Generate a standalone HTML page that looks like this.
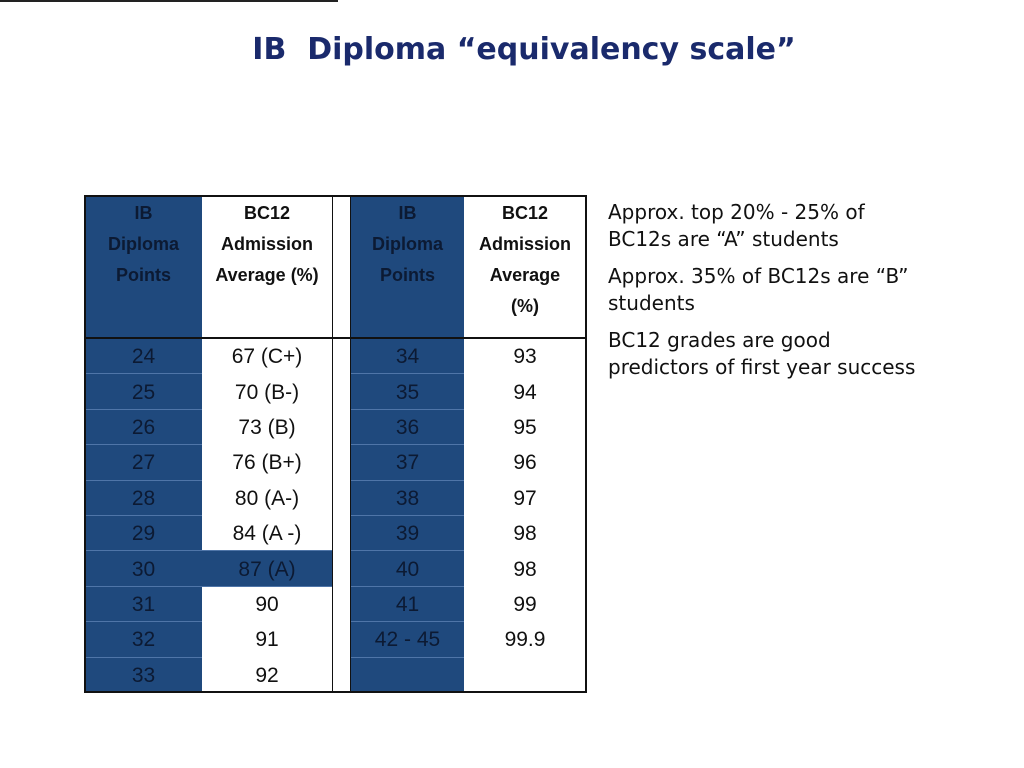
<!DOCTYPE html>
<html><head><meta charset="utf-8"><style>
body{margin:0;width:1024px;height:768px;background:#fff;position:relative;font-family:"Liberation Sans",sans-serif;overflow:hidden}
.a{position:absolute}
.c{position:absolute;display:flex;align-items:center;justify-content:center;text-align:center;font-size:21px;color:#111;padding-top:3px;box-sizing:border-box}
.b{background:#1f497d;color:#0c1a33}
.h{font-weight:bold;font-size:18px;line-height:31px;align-items:flex-start;padding-top:2px;box-sizing:border-box}
.sep{position:absolute;height:1px;background:#4f75a8}
p{margin:0}
</style></head><body>
<div class="a" style="left:0;top:0;width:338px;height:2px;background:#222"></div>
<div class="a" style="left:0;width:1048px;top:32px;text-align:center;font-family:'DejaVu Sans',sans-serif;font-size:30px;font-weight:bold;color:#1a2a6c">IB&nbsp; Diploma “equivalency scale”</div>
<div id="tbl"></div>
<div class="a" style="left:608px;top:199px;width:318px;font-family:'DejaVu Sans',sans-serif;font-size:20px;line-height:27px;color:#111">
<p>Approx. top 20% - 25% of BC12s are “A” students</p>
<p style="margin-top:10px">Approx. 35% of BC12s are “B” students</p>
<p style="margin-top:10px">BC12 grades are good predictors of first year success</p>
</div>
<script>
const leftIB=["24","25","26","27","28","29","30","31","32","33"];
const leftBC=["67 (C+)","70 (B-)","73 (B)","76 (B+)","80 (A-)","84 (A -)","87 (A)","90","91","92"];
const rightIB=["34","35","36","37","38","39","40","41","42 - 45",""];
const rightBC=["93","94","95","96","97","98","98","99","99.9",""];
const t=document.getElementById('tbl');
const top0=196,hdrH=142,rowH=35.4;
function cell(x,y,w,h,txt,cls){const d=document.createElement('div');d.className='c '+cls;d.style.cssText=`left:${x}px;top:${y}px;width:${w}px;height:${h}px`;d.innerHTML=txt;t.appendChild(d);return d;}
let h;
h=cell(85,top0,117,hdrH,'IB<br>Diploma<br>Points','b h');


h=cell(202,top0,130,hdrH,'BC12<br>Admission<br>Average (%)','h');


h=cell(351,top0,113,hdrH,'IB<br>Diploma<br>Points','b h');


h=cell(464,top0,122,hdrH,'BC12<br>Admission<br>Average<br>(%)','h');


for(let i=0;i<10;i++){
 const y=top0+hdrH+i*rowH;
 let d=cell(85,y,117,rowH,leftIB[i],'b');
 
 
 d=cell(202,y,130,rowH,leftBC[i],i==6?'b':'');
 
 
 d=cell(351,y,113,rowH,rightIB[i],'b');
 
 
 d=cell(464,y,122,rowH,rightBC[i],'');
 
 
 if(i>0){
  for(const [x,w] of [[85,117],[351,113]]){const s=document.createElement('div');s.className='sep';s.style.cssText=`left:${x}px;top:${y}px;width:${w}px`;
  
  
  t.appendChild(s);}
  if(i==6||i==7){const s=document.createElement('div');s.className='sep';s.style.cssText=`left:202px;top:${y}px;width:130px`;
  
  
  t.appendChild(s);}
 }
}
function line(x,y,w,hh){const s=document.createElement('div');s.className='a';s.style.cssText=`left:${x}px;top:${y}px;width:${w}px;height:${hh}px;background:#111`;


t.appendChild(s);}
line(85,195,501,2);line(85,337,501,2);line(85,691,501,2);
line(84,195,2,498);line(585,195,2,498);line(332,195,1,498);line(350,195,1,498);
</script>
</body></html>
